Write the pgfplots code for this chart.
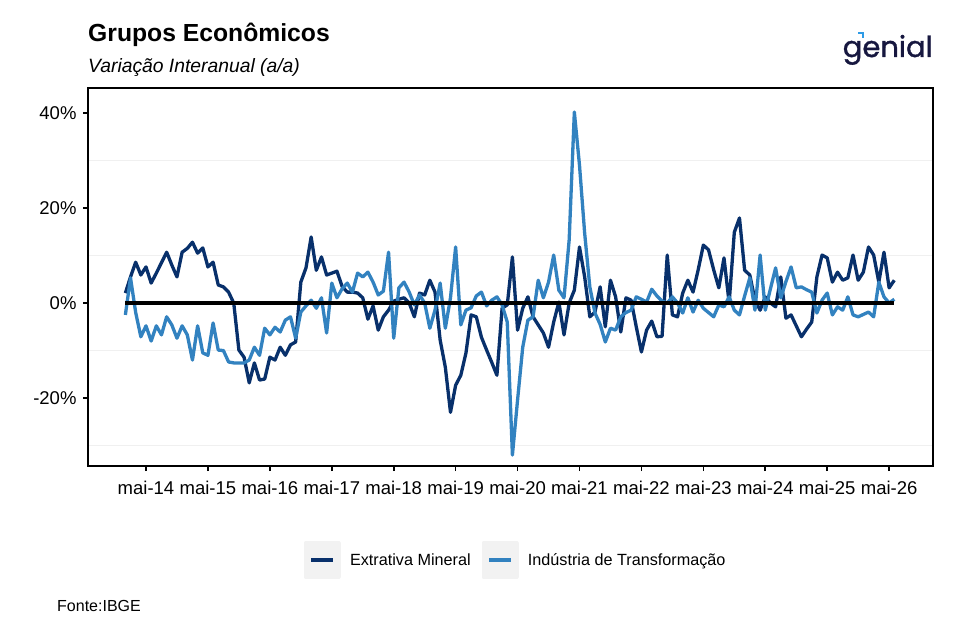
\documentclass[border=0pt]{standalone}
\usepackage{pgfplots}
\pgfplotsset{compat=1.18}
\usepackage{pgfplotstable}
\usepackage{fontspec}
\setmainfont{Liberation Sans}
\newfontfamily\logofont{Poppins}[FakeBold=1.2]
\definecolor{ext}{HTML}{08306B}
\definecolor{ind}{HTML}{3282C0}
\definecolor{gridc}{HTML}{F0F0F0}
\definecolor{keybg}{HTML}{F2F2F2}
\definecolor{logoc}{HTML}{16173F}
\definecolor{logob}{HTML}{2E9BE6}
\pgfplotstableread{
m ext ind
-4 2.1 -2.5
-3 5.5 5.3
-2 8.6 -2
-1 5.9 -7.1
0 7.6 -4.8
1 4.2 -8
2 6.3 -4.8
3 8.5 -6.7
4 10.7 -2.9
5 8 -4.6
6 5.5 -7.4
7 10.7 -4.8
8 11.5 -6.7
9 12.8 -12
10 10.5 -4.8
11 11.6 -10.5
12 7.6 -11
13 8.6 -4.2
14 3.8 -9.9
15 3.4 -10
16 2.3 -12.4
17 0 -12.6
18 -9.9 -12.6
19 -11.4 -12.6
20 -16.8 -12
21 -12.6 -9.3
22 -16.2 -11
23 -16 -5.3
24 -11.4 -6.7
25 -12 -5.1
26 -9.3 -6.1
27 -11 -3.6
28 -8.8 -2.9
29 -8.2 -7.4
30 4.4 -1.9
31 7.4 -0.6
32 13.9 0.6
33 6.9 -1.1
34 9.7 1.1
35 5.9 -6.3
36 6.3 4.2
37 6.7 1.1
38 3.5 3
39 2.3 4.2
40 2.3 2.3
41 2.1 6.3
42 1.1 5.5
43 -3.4 6.5
44 -0.6 4.4
45 -5.7 1.7
46 -2.9 2.5
47 -1.5 10.7
48 0.4 -7.4
49 0.8 3.2
50 1.1 4.4
51 0 2.3
52 -2.9 -0.4
53 2.1 1.7
54 1.7 0
55 4.8 -5.3
56 2.3 -1.5
57 -7.8 4.2
58 -13.5 -5.3
59 -23 1.1
60 -17.3 11.8
61 -15.2 -4.6
62 -10.5 -1.5
63 -2.5 -1
64 -2.9 1.5
65 -7.2 2.3
66 -9.9 -0.6
67 -12.5 0.6
68 -15.2 1.3
69 -1.1 -0.4
70 -0.4 -4
71 9.7 -32
72 -5.7 -20.4
73 -1.1 -9.3
74 1.3 -3.6
75 -2.9 -2.9
76 -4.6 4.8
77 -6.3 1.1
78 -9.3 4.4
79 -4 10.1
80 0.2 2.7
81 -6.7 1.1
82 0 13.3
83 2.7 40.2
84 11.8 29
85 5.5 14.7
86 -2.9 3.4
87 -1.9 -2.1
88 3.4 -4.5
89 -5 -8.2
90 4.8 -5.3
91 1.3 -5.7
92 -6.1 -2.9
93 1.1 -2
94 0.6 -1.5
95 -5 1.3
96 -10.3 0.8
97 -5.7 0.2
98 -3.8 2.9
99 -7.1 1.5
100 -7 0.4
101 10.1 0
102 -2.5 1.3
103 -2.9 0
104 2.1 -2.1
105 4.8 1.1
106 2.3 -1.9
107 7 0.6
108 12.2 -1.1
109 11.2 -2
110 7 -2.9
111 3.2 -0.4
112 9.5 -0.8
113 0 1.3
114 14.9 -1.5
115 17.9 -2.5
116 6.9 1.5
117 5.9 5.3
118 0.6 -1.5
119 -1.5 10.1
120 1.3 -1.5
121 0 3
122 -0.8 7.4
123 5.5 1.1
124 -3.2 4.5
125 -2.5 7.6
126 -4.8 3.2
127 -7.1 3.4
128 -5.5 2.8
129 -4 2.3
130 5.5 -2.1
131 10.1 0.6
132 9.5 2.1
133 4.4 -2.5
134 6.5 -0.8
135 4.8 -1.5
136 5.3 1.3
137 10.1 -2.5
138 4.8 -2.9
139 6.5 -2.4
140 11.8 -1.9
141 10.1 -2.9
142 4.4 4.4
143 10.7 1.3
144 3.2 0
145 4.8 0.8
}\datatab
\begin{document}
\begin{tikzpicture}
\path[use as bounding box, fill=white] (0pt,0pt) rectangle (956pt,638pt);
\node[anchor=base west, inner sep=0pt, font=\fontsize{24.7}{28}\selectfont\bfseries] at (88pt,596pt) {Grupos Econômicos};
\node[anchor=base west, inner sep=0pt, font=\fontsize{19.3}{22}\selectfont\itshape] at (88pt,565pt) {Variação Interanual (a/a)};
\node[anchor=base west, inner sep=0pt, font=\fontsize{16}{18}\selectfont] at (57pt,27pt) {Fonte:IBGE};
\node[anchor=base east, inner sep=0pt, text=logoc, font=\fontsize{29}{32}\selectfont\logofont] at (933pt,581pt) {genial};
\draw[logob, line width=2pt] (858pt,605pt) -- (863pt,605pt) -- (863pt,600pt);
\begin{axis}[
  at={(88pt,172pt)}, anchor=south west,
  width=845pt, height=378pt, scale only axis,
  xmin=-11.24, xmax=152.5, ymin=-34.3, ymax=45.26,
  axis line style={line width=1.6pt, black},
  xtick={0,12,...,144},
  xticklabels={mai-14,mai-15,mai-16,mai-17,mai-18,mai-19,mai-20,mai-21,mai-22,mai-23,mai-24,mai-25,mai-26},
  ytick={-20,0,20,40}, yticklabels={-20\%,0\%,20\%,40\%},
  minor ytick={-30,-10,10,30},
  yminorgrids=true, minor grid style={gridc, line width=0.8pt},
  minor tick length=0pt,
  tick style={black, line width=1.6pt}, tick align=outside, major tick length=5pt,
  xtick pos=lower, ytick pos=left,
  tick label style={font=\fontsize{18.5}{20}\selectfont},
  xticklabel style={yshift=-7pt},
  yticklabel style={xshift=-3pt},
  /pgf/number format/assume math mode=true,
  legend style={at={(axis description cs:0.506,-0.2487)}, anchor=center, draw=none, fill=none,
    legend columns=2, font=\fontsize{16.2}{18}\selectfont,
    /tikz/every even column/.append style={column sep=9pt}},
  legend image code/.code={\fill[keybg] (0pt,-17pt) rectangle (34pt,17pt); \draw[#1] (6pt,0pt) -- (28pt,0pt); \path (41pt,0pt);},
]
\addplot[ext, line width=3.3pt, line join=round] table[x=m, y=ext] {\datatab};
\addlegendentry{Extrativa Mineral}
\addplot[ind, line width=3.3pt, line join=round] table[x=m, y=ind] {\datatab};
\addlegendentry{Indústria de Transformação}
\addplot[black, line width=4pt, forget plot] coordinates {(-4,0) (145,0)};
\end{axis}
\end{tikzpicture}
\end{document}
